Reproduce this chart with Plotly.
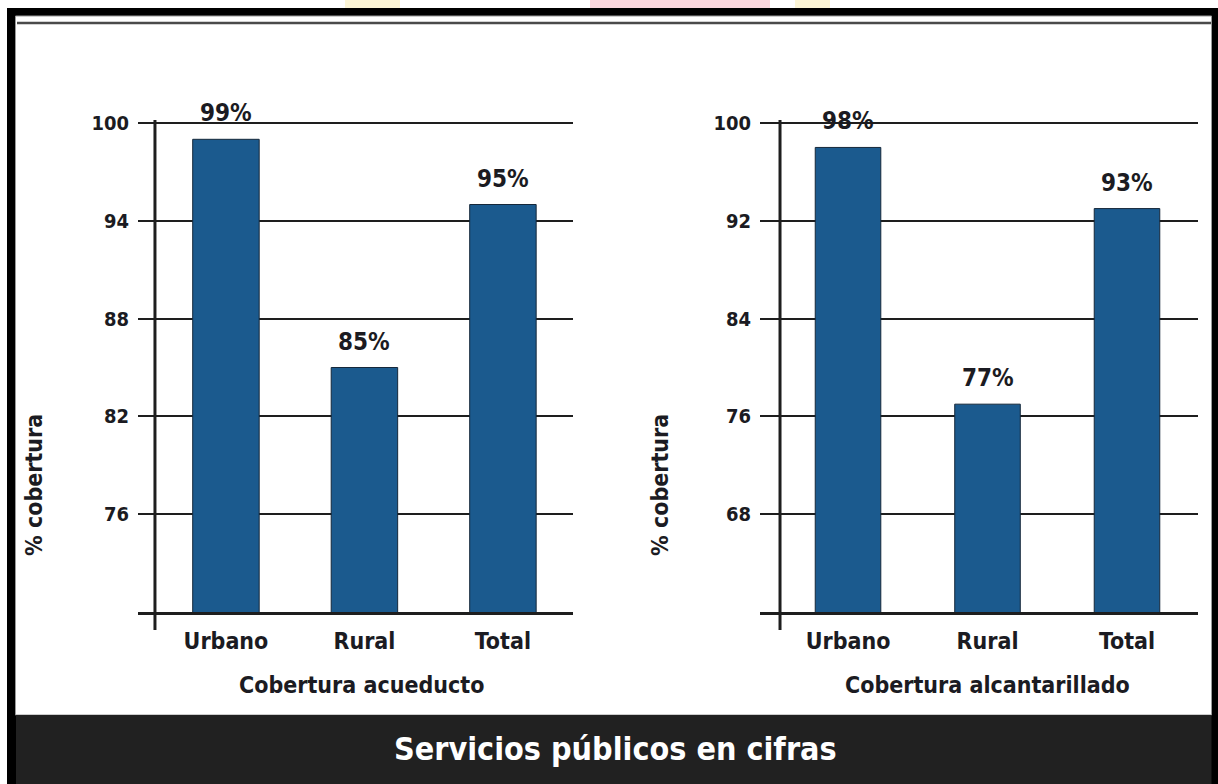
import plotly.graph_objects as go

# ---- data ----
categories = ["Urbano", "Rural", "Total"]
acueducto = [99, 85, 95]
alcantarillado = [98, 77, 93]
ticks_acueducto = [76, 82, 88, 94, 100]
ticks_alcantarillado = [68, 76, 84, 92, 100]
range_acueducto = [70, 100.184]
range_alcantarillado = [60, 100.245]
title_left = "Cobertura acueducto"
title_right = "Cobertura alcantarillado"
y_title = "% cobertura"
banner_title = "Servicios públicos en cifras"

W, H = 1218, 784
FONT = "DejaVu Sans Condensed, DejaVu Sans, sans-serif"
TXT = "#1b1b22"
BAR = "#1b5a8e"
LINE = "#1e1e1e"


def px(x):
    return x / W


def py(y):
    return 1 - y / H


def f(size, color=TXT):
    return dict(family=FONT, size=size, color=color, weight="bold")


fig = go.Figure()
fig.add_trace(go.Bar(x=categories, y=acueducto, xaxis="x", yaxis="y",
                     marker=dict(color=BAR, line=dict(color="#16283a", width=1)),
                     width=0.48, hoverinfo="x+y"))
fig.add_trace(go.Bar(x=categories, y=alcantarillado, xaxis="x2", yaxis="y2",
                     marker=dict(color=BAR, line=dict(color="#16283a", width=1)),
                     width=0.47, hoverinfo="x+y"))

ydom = [py(612), py(120)]
xaxis_common = dict(type="category", showline=True, linecolor=LINE, linewidth=3,
                    showgrid=False, ticks="", zeroline=False, automargin=False,
                    tickfont=f(23), ticklabelstandoff=6, fixedrange=True)
yaxis_common = dict(showline=False, showgrid=True, gridcolor=LINE, gridwidth=2,
                    ticks="", zeroline=False, automargin=False,
                    tickfont=f(20), ticklabelstandoff=8, fixedrange=True)

fig.update_layout(
    template="none",
    width=W, height=H, autosize=False,
    margin=dict(l=0, r=0, t=0, b=0, pad=0),
    paper_bgcolor="white", plot_bgcolor="rgba(0,0,0,0)",
    showlegend=False,
    xaxis=dict(domain=[px(138), px(573)], range=[-0.635, 2.506], anchor="y", **xaxis_common),
    yaxis=dict(domain=ydom, range=range_acueducto, tickvals=ticks_acueducto, anchor="x", **yaxis_common),
    xaxis2=dict(domain=[px(760), px(1198)], range=[-0.631, 2.509], anchor="y2", **xaxis_common),
    yaxis2=dict(domain=ydom, range=range_alcantarillado, tickvals=ticks_alcantarillado, anchor="x2", **yaxis_common),
)

shapes = [
    # outer black frame
    dict(type="rect", xref="paper", yref="paper", x0=px(7), x1=px(1218), y0=py(784), y1=py(8),
         fillcolor="black", line=dict(width=0), layer="below"),
    # white inner panel
    dict(type="rect", xref="paper", yref="paper", x0=px(15.5), x1=px(1211.5), y0=py(715), y1=py(16),
         fillcolor="white", line=dict(color="#9a9a9a", width=1), layer="below"),
    # double rule at top
    dict(type="line", xref="paper", yref="paper", x0=px(17), x1=px(1211), y0=py(23), y1=py(23),
         line=dict(color="#4a4a4a", width=2.5), layer="below"),
    # dark banner
    dict(type="rect", xref="paper", yref="paper", x0=px(16), x1=px(1211.5), y0=py(784), y1=py(715),
         fillcolor="#212121", line=dict(width=0), layer="below"),
    # vertical y-axis lines crossing below the x axis
    dict(type="line", xref="x domain", yref="y domain", x0=0.039, x1=0.039, y0=-0.0366, y1=1.0,
         line=dict(color=LINE, width=3)),
    dict(type="line", xref="x2 domain", yref="y2 domain", x0=0.0457, x1=0.0457, y0=-0.0366, y1=1.0,
         line=dict(color=LINE, width=3)),
    # faint colour smudges at the very top
    dict(type="rect", xref="paper", yref="paper", x0=px(590), x1=px(770), y0=py(8), y1=py(0),
         fillcolor="#f8c6cf", line=dict(width=0), opacity=0.7, layer="below"),
    dict(type="rect", xref="paper", yref="paper", x0=px(345), x1=px(400), y0=py(8), y1=py(0),
         fillcolor="#fbf1c4", line=dict(width=0), opacity=0.7, layer="below"),
    dict(type="rect", xref="paper", yref="paper", x0=px(795), x1=px(830), y0=py(8), y1=py(0),
         fillcolor="#fbf1c4", line=dict(width=0), opacity=0.7, layer="below"),
]

annotations = []
for xa, ya, vals in (("x", "y", acueducto), ("x2", "y2", alcantarillado)):
    for c, v in zip(categories, vals):
        annotations.append(dict(xref=xa, yref=ya, x=c, y=v, text=f"{v}%", showarrow=False,
                                xanchor="center", yanchor="bottom", yshift=10, font=f(24)))

annotations += [
    dict(xref="x", yref="paper", x="Rural", y=py(685), text=title_left, showarrow=False,
         xanchor="center", yanchor="middle", xshift=-3, font=f(23)),
    dict(xref="x2", yref="paper", x="Rural", y=py(685), text=title_right, showarrow=False,
         xanchor="center", yanchor="middle", font=f(23)),
    dict(xref="paper", yref="paper", x=px(34), y=py(485), text=y_title, showarrow=False,
         xanchor="center", yanchor="middle", textangle=-90, font=f(23)),
    dict(xref="paper", yref="paper", x=px(660), y=py(485), text=y_title, showarrow=False,
         xanchor="center", yanchor="middle", textangle=-90, font=f(23)),
    dict(xref="paper", yref="paper", x=px(615), y=py(749), text=banner_title, showarrow=False,
         xanchor="center", yanchor="middle", font=f(32, "white")),
]

fig.update_layout(shapes=shapes, annotations=annotations)

fig.write_html("out.html", config={"displayModeBar": False},
               post_script="document.body.style.margin='0';document.body.style.overflow='hidden';")
